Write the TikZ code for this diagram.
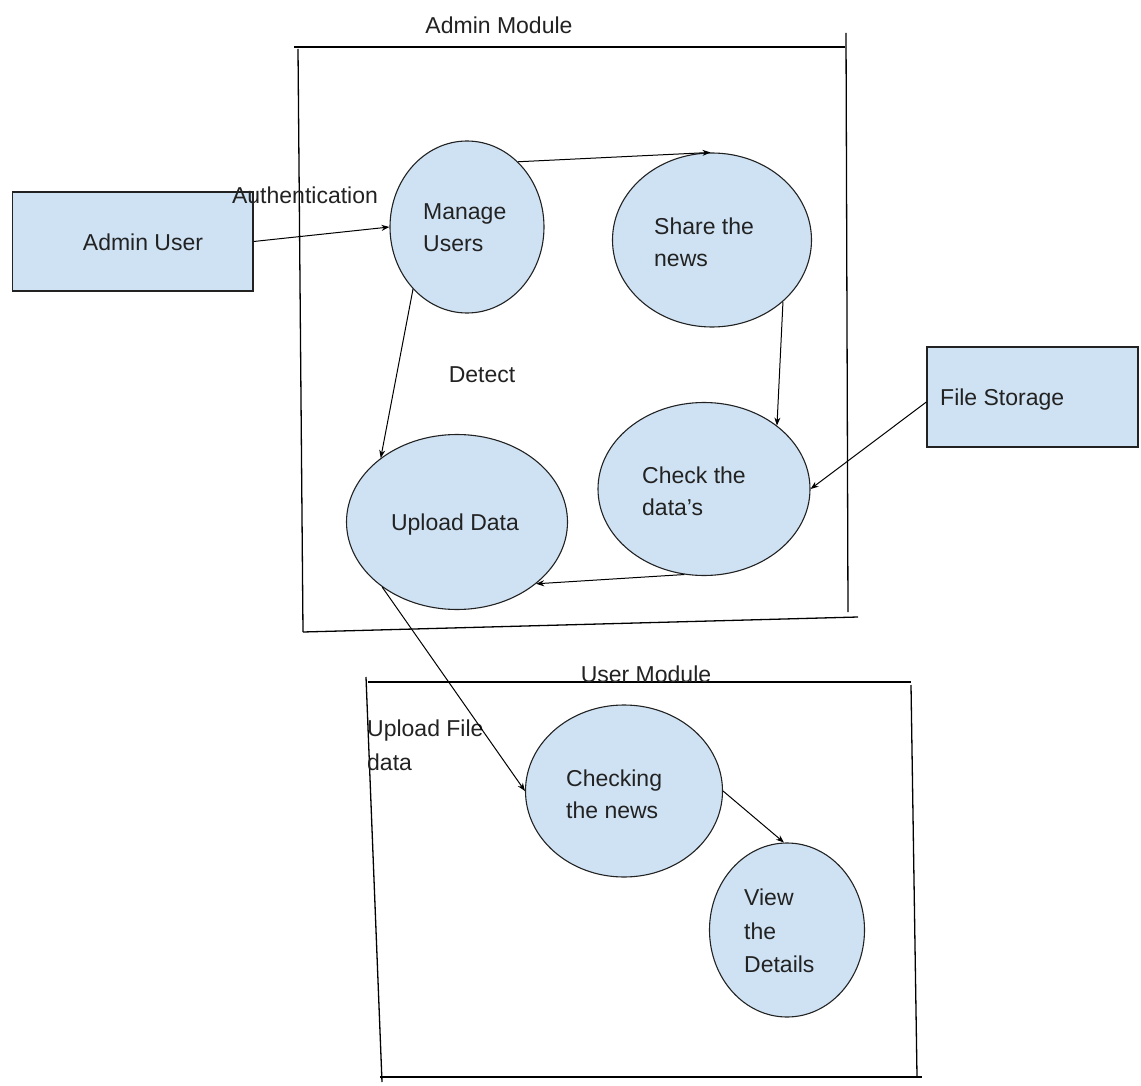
\documentclass[tikz,border=0pt]{standalone}
\usepackage{fontspec}
\setmainfont{Liberation Sans}
\usetikzlibrary{shapes.geometric,arrows.meta}
\definecolor{boxblue}{HTML}{CFE2F3}
\definecolor{ink}{HTML}{222222}
\tikzset{
  proc/.style={ellipse,draw=ink,line width=1.1pt,fill=boxblue,inner sep=0pt},
  ent/.style={rectangle,draw=ink,line width=1.3pt,fill=boxblue,inner sep=0pt},
  txt/.style={font=\fontsize{23}{32}\selectfont,text=ink,inner sep=0pt},
  ltxt/.style={txt,align=left},
  frame/.style={draw=black,line width=1.3pt},
  flow/.style={draw=black,line width=1pt,-{Stealth[length=8pt,width=6pt]}},
}
\begin{document}
\begin{tikzpicture}[x=1pt,y=-1pt]
\useasboundingbox (0,0) rectangle (1141,1086);
% Admin module frame
\draw[frame] (294,47) -- (845,47);
\draw[frame] (298,49) -- (303,632);
\draw[frame] (846,33) -- (848,612);
\draw[frame] (303,632) -- (858,617);
\node[txt] (adminmod) at (499,25) {Admin Module};
% User module frame
\draw[frame] (368,682) -- (911,682);
\draw[frame] (366,677) -- (382,1082);
\draw[frame] (911,685) -- (917,1076);
\draw[frame] (380,1077) -- (922,1077);
\node[txt] (usermod) at (646,674) {User Module};
% external entities
\node[ent,minimum width=240.5pt,minimum height=99pt] (adminuser) at (132.75,241.5) {};
\node[txt] (adminusert) at (143,242) {Admin User};
\node[ent,minimum width=211pt,minimum height=100pt] (filestore) at (1032.5,397) {};
\node[txt,anchor=west] (filestoret) at (940,400) {File Storage};
% processes
\node[proc,minimum width=154pt,minimum height=172pt] (manage) at (467,227) {};
\node[ltxt,anchor=west] (managet) at (423,228) {Manage\\Users};
\node[proc,minimum width=199pt,minimum height=174pt] (share) at (712,240) {};
\node[ltxt,anchor=west] (sharet) at (654,242) {Share the\\news};
\node[proc,minimum width=212pt,minimum height=173pt] (check) at (704,489) {};
\node[ltxt,anchor=west] (checkt) at (642,491) {Check the\\data's};
\node[proc,minimum width=221pt,minimum height=175pt] (upload) at (457,522) {};
\node[txt] (uploadt) at (455,525) {Upload Data};
\node[proc,minimum width=197pt,minimum height=172pt] (checking) at (624,791) {};
\node[ltxt,anchor=west] (checkingt) at (566,794) {Checking\\the news};
\node[proc,minimum width=155pt,minimum height=174pt] (view) at (787,930) {};
\node[ltxt,anchor=west,font=\fontsize{23}{33.5}\selectfont] (viewt) at (744,931) {View\\the\\Details};
% labels
\node[txt] (auth) at (305,195) {Authentication};
\node[txt] (detect) at (482,375) {Detect};
\node[ltxt,anchor=west,font=\fontsize{23}{34}\selectfont] (uploadfile) at (367,745) {Upload File\\data};
% flows
\draw[flow] (adminuser.east) -- (manage.west);
\draw[flow] (manage.52) -- (share.91);
\draw[flow] (manage.229) -- (upload.140);
\draw[flow] (share.-41) -- (check.41);
\draw[flow] ([yshift=-5pt]filestore.west) -- (check.east);
\draw[flow] (check.257) -- (upload.-38);
\draw[flow] (upload.221) -- (checking.west);
\draw[flow] (checking.east) -- (view.92);
\end{tikzpicture}
\end{document}
